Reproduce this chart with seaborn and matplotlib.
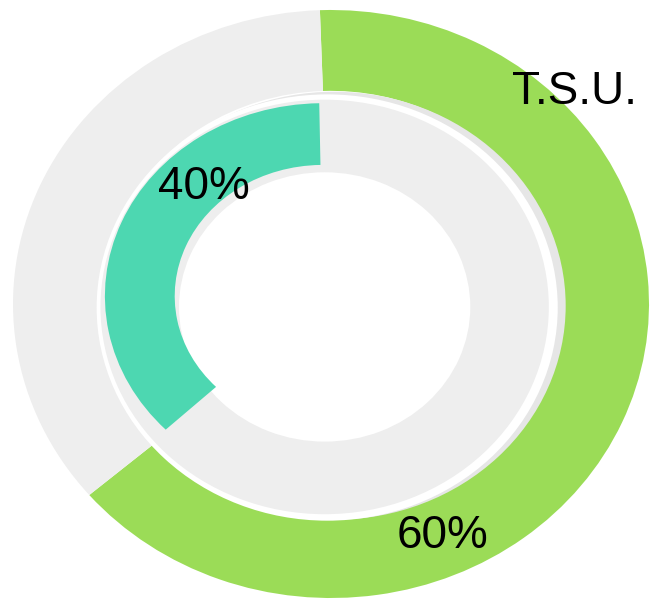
import matplotlib
matplotlib.use("Agg")
import matplotlib.pyplot as plt
import matplotlib.transforms as mtransforms
import seaborn as sns
from matplotlib.patches import Circle

# arc shares as drawn (the labels show the nominal values)
outer_shares = [64.3, 35.7]   # T.S.U. filled, remainder
inner_shares = [36.9, 63.1]   # inner filled, remainder
outer_label = "60%"
inner_label = "40%"
series_name = "T.S.U."

GREEN = "#9bdc57"
TEAL = "#4dd7b1"
TRACK = "#eeeeee"
SHADOW = "#e6e6e6"

sns.set_style("white")
plt.rcParams['font.family'] = ['Liberation Sans', 'DejaVu Sans']
plt.rcParams['text.color'] = 'black'

fig = plt.figure(figsize=(6.51, 6.00), dpi=100)
ax = fig.add_axes([0, 0, 1, 1])

# outer ring
ax.pie(outer_shares, colors=[GREEN, TRACK], radius=1.0, startangle=92,
       counterclock=False, wedgeprops=dict(width=0.275, linewidth=0))

# shadow and white backing behind the inner ring
ax.add_patch(Circle((0.010, -0.006), 0.728, color=SHADOW, lw=0, zorder=2))
ax.add_patch(Circle((-0.012, -0.012), 0.725, color="white", lw=0, zorder=3))

# inner ring: grey track
inner_c = (-0.020, -0.010)
track = ax.pie([1], colors=[TRACK], radius=0.705, center=inner_c,
               wedgeprops=dict(width=0.247, linewidth=0))
for w in track[0]:
    w.set_zorder(4)

# filled arc sits on its own, slightly smaller and higher ellipse
arc = ax.pie(inner_shares, colors=[TEAL, "none"], radius=1.0,
             startangle=91, counterclock=True,
             wedgeprops=dict(width=0.32, linewidth=0))
arc_tr = mtransforms.Affine2D().scale(0.686, 0.656).translate(-0.025, 0.027) + ax.transData
for w in arc[0]:
    w.set_transform(arc_tr)
    w.set_zorder(5)

ax.text(0.767, 0.721, series_name, fontsize=33, color="black",
        ha="center", va="center", zorder=6)
ax.text(-0.401, 0.398, inner_label, fontsize=33, color="black",
        ha="center", va="center", zorder=6)
ax.text(0.352, -0.789, outer_label, fontsize=33, color="black",
        ha="center", va="center", zorder=6)

ax.set_aspect("auto")
ax.set_xlim(-1.0409, 1.0063)
ax.set_ylim(-1.0068, 1.034)
ax.axis("off")

fig.savefig("out.png", dpi=100)
plt.close(fig)
